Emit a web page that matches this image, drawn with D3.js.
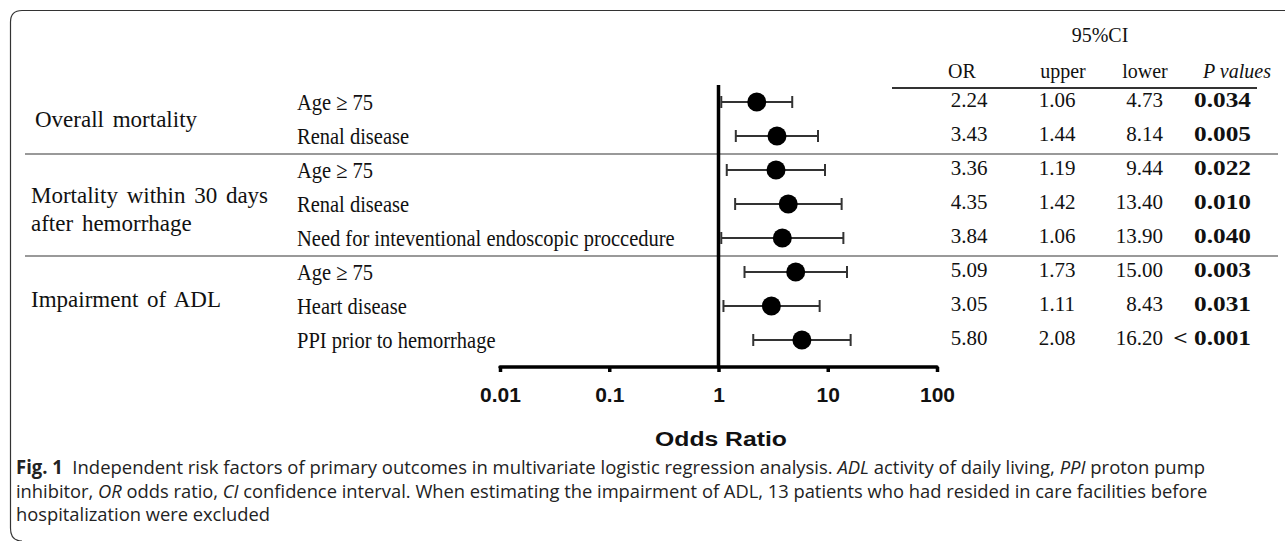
<!DOCTYPE html>
<html>
<head>
<meta charset="utf-8">
<script src="https://cdn.jsdelivr.net/npm/d3@7"></script>
<style>
  body { margin: 0; background: #fff; }
  svg { display: block; }
</style>
</head>
<body>
<div class="canva"></div>
<script>
// data
const groups = [
  ["Overall mortality"],
  ["Mortality within 30 days", "after hemorrhage"],
  ["Impairment of ADL"]
];
const factors = ["Age \u2265 75", "Renal disease", "Age \u2265 75", "Renal disease",
  "Need for inteventional endoscopic proccedure", "Age \u2265 75", "Heart disease",
  "PPI prior to hemorrhage"];
const groupOf = [0, 0, 1, 1, 1, 2, 2, 2];
const oddsRatio = [2.24, 3.43, 3.36, 4.35, 3.84, 5.09, 3.05, 5.80];
const ciUpperCol = [1.06, 1.44, 1.19, 1.42, 1.06, 1.73, 1.11, 2.08];   // column titled "upper"
const ciLowerCol = [4.73, 8.14, 9.44, 13.40, 13.90, 15.00, 8.43, 16.20]; // column titled "lower"
const pValues = ["0.034", "0.005", "0.022", "0.010", "0.040", "0.003", "0.031", "< 0.001"];
const axisTicks = [0.01, 0.1, 1, 10, 100];

const width = 1285, height = 541;
const serif = '"Liberation Serif", "Times New Roman", serif';
const sans = '"Liberation Sans", Arial, sans-serif';

const svg = d3.select('.canva').append('svg')
  .attr('width', width)
  .attr('height', height);

// squeeze/stretch a text horizontally so that it spans target px
function fitX(sel, x, y, target, anchor) {
  const w = sel.node().getComputedTextLength();
  const k = target / w;
  sel.attr('transform', `translate(${x},${y}) scale(${k},1)`)
     .attr('text-anchor', anchor || 'start');
  return k;
}

// frame
svg.append('path')
  .attr('d', 'M1290,10.5 H22 Q10.5,10.5 10.5,22 V528 Q10.5,541 22,541')
  .attr('fill', 'none')
  .attr('stroke', '#333')
  .attr('stroke-width', 1.2);

const x = d3.scaleLog().domain([0.01, 100]).range([500, 937]);
const y = d3.scalePoint().domain(d3.range(factors.length)).range([102, 340]);

// group separators
const sepRows = [1, 4];
svg.selectAll('line.sep')
  .data(sepRows)
  .enter().append('line')
  .attr('class', 'sep')
  .attr('x1', 25).attr('x2', 1278)
  .attr('y1', d => (y(d) + y(d + 1)) / 2 + 1)
  .attr('y2', d => (y(d) + y(d + 1)) / 2 + 1)
  .attr('stroke', '#777')
  .attr('stroke-width', 1.6);

// header
svg.append('line')
  .attr('x1', 892).attr('x2', 1257)
  .attr('y1', 88).attr('y2', 88)
  .attr('stroke', '#333').attr('stroke-width', 2);

const head = svg.append('g')
  .attr('font-family', serif).attr('font-size', 20).attr('fill', '#111');
head.append('text').attr('x', 1100).attr('y', 42).attr('text-anchor', 'middle').text('95%CI');
head.selectAll('text.col')
  .data([['OR', 962], ['upper', 1063], ['lower', 1145]])
  .enter().append('text')
  .attr('class', 'col')
  .attr('x', d => d[1]).attr('y', 78)
  .attr('text-anchor', 'middle')
  .text(d => d[0]);
head.append('text').attr('x', 1237).attr('y', 78).attr('text-anchor', 'middle')
  .attr('font-style', 'italic').text('P values');

// group labels
const groupBase = [[127], [203, 231], [307]];
const gl = svg.append('g').attr('font-family', serif).attr('font-size', 23).attr('fill', '#111');
groups.forEach((lines, gi) => {
  lines.forEach((t, li) => {
    gl.append('text')
      .attr('x', gi === 0 ? 35 : 31)
      .attr('y', groupBase[gi][li])
      .attr('word-spacing', 3)
      .text(t);
  });
});

// factor labels (the source type is condensed)
const fl = svg.append('g').attr('font-family', serif).attr('font-size', 23).attr('fill', '#111');
const flTexts = fl.selectAll('text')
  .data(factors)
  .enter().append('text')
  .text(d => d);
const kRef = 378 / flTexts.filter((d, i) => i === 4).node().getComputedTextLength();
flTexts.attr('transform', (d, i) => `translate(297,${y(i) + 8}) scale(${kRef},1)`);

// reference line at OR = 1
svg.append('line')
  .attr('x1', x(1)).attr('x2', x(1))
  .attr('y1', 85).attr('y2', 367)
  .attr('stroke', '#000').attr('stroke-width', 3.5);

// error bars and points
const rows = svg.append('g').selectAll('g.row')
  .data(d3.range(factors.length))
  .enter().append('g').attr('class', 'row');

rows.append('line')
  .attr('x1', i => x(ciUpperCol[i])).attr('x2', i => x(ciLowerCol[i]))
  .attr('y1', i => y(i)).attr('y2', i => y(i))
  .attr('stroke', '#333').attr('stroke-width', 2.2);
rows.append('line')
  .attr('x1', i => x(ciUpperCol[i])).attr('x2', i => x(ciUpperCol[i]))
  .attr('y1', i => y(i) - 6).attr('y2', i => y(i) + 6)
  .attr('stroke', '#333').attr('stroke-width', 2);
rows.append('line')
  .attr('x1', i => x(ciLowerCol[i])).attr('x2', i => x(ciLowerCol[i]))
  .attr('y1', i => y(i) - 6).attr('y2', i => y(i) + 6)
  .attr('stroke', '#333').attr('stroke-width', 2);
rows.append('circle')
  .attr('cx', i => x(oddsRatio[i])).attr('cy', i => y(i))
  .attr('r', 9.5)
  .attr('fill', '#000');

// x axis
const axis = d3.axisBottom(x).tickValues(axisTicks).tickSize(5).tickFormat(d => String(d));
const ax = svg.append('g').attr('transform', 'translate(0,367)').call(axis);
ax.select('.domain').attr('stroke', '#000').attr('stroke-width', 3.5)
  .attr('stroke-linecap', 'round')
  .attr('d', `M${x(0.01)},0H${x(100)}`);
ax.selectAll('.tick line').attr('stroke', '#000').attr('stroke-width', 3.5);
ax.selectAll('.tick text')
  .attr('font-family', sans).attr('font-size', 21).attr('font-weight', 'bold')
  .attr('fill', '#111').attr('y', 35).attr('dy', 0);

const title = svg.append('text')
  .attr('font-family', sans).attr('font-size', 21).attr('font-weight', 'bold')
  .attr('fill', '#111')
  .text('Odds Ratio');
fitX(title, 721, 446, 132, 'middle');

// table values
const tv = svg.append('g').attr('font-family', serif).attr('font-size', 21).attr('fill', '#111');
tv.selectAll('text.or').data(oddsRatio).enter().append('text')
  .attr('class', 'or').attr('x', 969).attr('y', (d, i) => y(i) + 5)
  .attr('text-anchor', 'middle').text(d => d.toFixed(2));
tv.selectAll('text.up').data(ciUpperCol).enter().append('text')
  .attr('class', 'up').attr('x', 1057).attr('y', (d, i) => y(i) + 5)
  .attr('text-anchor', 'middle').text(d => d.toFixed(2));
tv.selectAll('text.lo').data(ciLowerCol).enter().append('text')
  .attr('class', 'lo').attr('x', 1163).attr('y', (d, i) => y(i) + 5)
  .attr('text-anchor', 'end').text(d => d.toFixed(2));
const pv = tv.selectAll('text.p').data(pValues).enter().append('text')
  .attr('class', 'p').attr('font-weight', 'bold')
  .text(d => d);
const kP = 57 / pv.filter((d, i) => i === 0).node().getComputedTextLength();
pv.attr('text-anchor', 'end')
  .attr('transform', (d, i) => `translate(1251,${y(i) + 5}) scale(${kP},1)`);

// caption
const capLines = [
  [['Fig. 1', 'b'], ['  Independent risk factors of primary outcomes in multivariate logistic regression analysis. ', ''],
   ['ADL', 'i'], [' activity of daily living, ', ''], ['PPI', 'i'], [' proton pump', '']],
  [['inhibitor, ', ''], ['OR', 'i'], [' odds ratio, ', ''], ['CI', 'i'],
   [' confidence interval. When estimating the impairment of ADL, 13 patients who had resided in care facilities before', '']],
  [['hospitalization were excluded', '']]
];
const capWidths = [1190, 1192, null];
const cap = svg.append('g').attr('font-family', '"Open Sans", "Noto Sans", sans-serif')
  .attr('font-size', 19).attr('fill', '#222');
let capK = 1;
capLines.forEach((parts, li) => {
  const t = cap.append('text').attr('xml:space', 'preserve').style('white-space', 'pre');
  parts.forEach(p => {
    const s = t.append('tspan').text(p[0]);
    if (p[1] === 'b') s.attr('font-weight', 'bold');
    if (p[1] === 'i') s.attr('font-style', 'italic');
  });
  const by = 474 + li * 23.5;
  if (capWidths[li]) capK = fitX(t, 16, by, capWidths[li]);
  else t.attr('transform', `translate(16,${by}) scale(${capK},1)`);
});
</script>
</body>
</html>
